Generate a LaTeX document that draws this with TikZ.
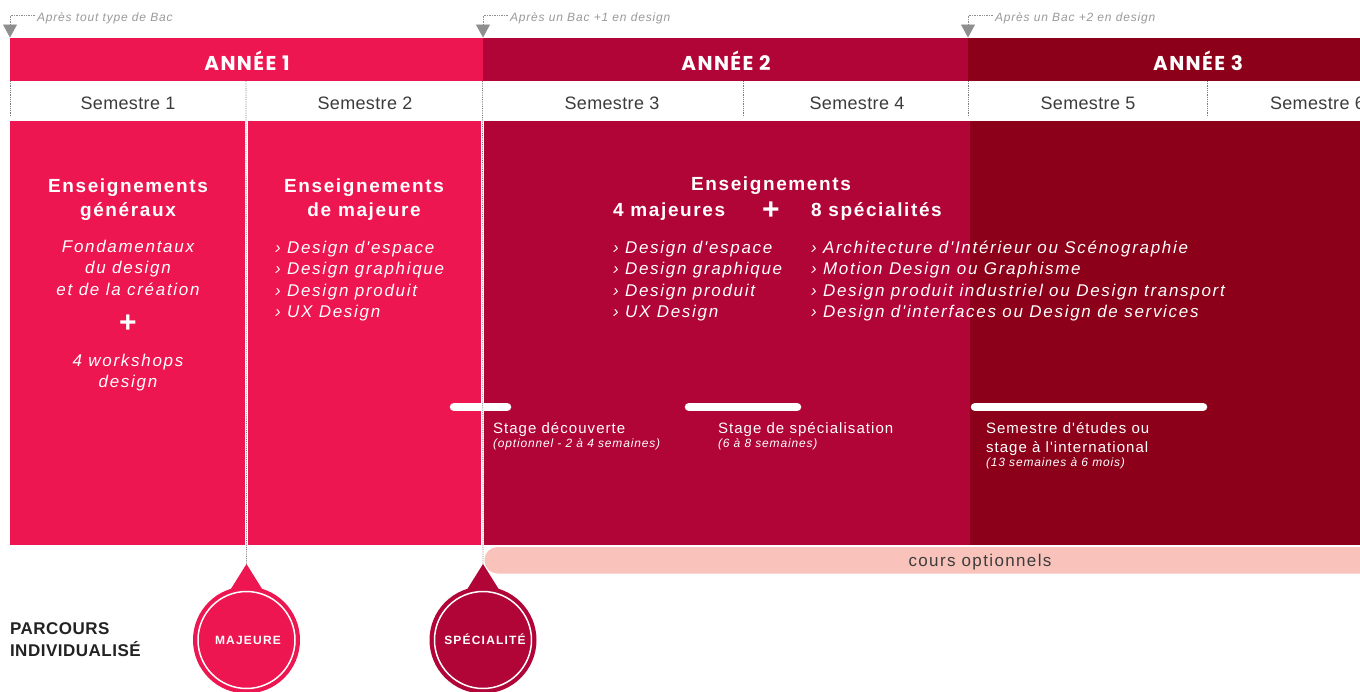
\documentclass[tikz,border=0pt]{standalone}
\usepackage{fontspec}
\setmainfont{Liberation Sans}
\newfontfamily\yearfont{Poppins}[LetterSpace=7]
\newfontfamily\headfont{Liberation Sans}[LetterSpace=8.5]
\newfontfamily\listfont{Liberation Sans}[LetterSpace=10]
\newfontfamily\semfont{Liberation Sans}[LetterSpace=2]
\newfontfamily\stagefont{Liberation Sans}[LetterSpace=7]
\newfontfamily\notefont{Liberation Sans}[LetterSpace=7]
\newfontfamily\coursfont{Liberation Sans}[LetterSpace=8]
\newfontfamily\parcfont{Liberation Sans}[LetterSpace=3]
\newfontfamily\circfont{Liberation Sans}[LetterSpace=10]
\usetikzlibrary{arrows.meta}
\definecolor{yone}{HTML}{ED1651}
\definecolor{ytwo}{HTML}{B10538}
\definecolor{ythree}{HTML}{8C0019}
\definecolor{coursbg}{HTML}{F9C3BB}
\definecolor{semtxt}{HTML}{3C3C3C}
\definecolor{notegray}{HTML}{9A9A9A}
\definecolor{arrowgray}{HTML}{8E8E8E}
\definecolor{sepgray}{HTML}{7A7A7A}
\definecolor{darktxt}{HTML}{222222}
\tikzset{
  yeartxt/.style={text=white, font=\yearfont\bfseries\fontsize{20}{22}\selectfont, anchor=base},
  semlabel/.style={text=semtxt, font=\semfont\fontsize{18}{20}\selectfont, anchor=base},
  headtxt/.style={text=white, font=\headfont\bfseries\fontsize{19}{22}\selectfont, anchor=base},
  listtxt/.style={text=white, font=\listfont\itshape\fontsize{17}{20}\selectfont, anchor=base},
  listleft/.style={listtxt, anchor=base west},
  plustxt/.style={text=white, font=\bfseries\fontsize{30}{32}\selectfont, anchor=center},
  stagetxt/.style={text=white, font=\stagefont\fontsize{15}{18}\selectfont, anchor=base west},
  stagenote/.style={text=white, font=\notefont\itshape\fontsize{12}{14}\selectfont, anchor=base west},
  toplabel/.style={text=notegray, font=\notefont\itshape\fontsize{12}{14}\selectfont, anchor=base west},
  toparrow/.style={arrowgray, densely dotted, line width=0.7pt, -{Triangle[length=13pt,width=14pt,sep=0pt]}},
  sepline/.style={sepgray, densely dotted, line width=0.8pt},
  stagebar/.style={white, line width=8.5pt, line cap=round},
  circtxt/.style={text=white, font=\circfont\bfseries\fontsize{12}{14}\selectfont, anchor=base},
  parctxt/.style={text=darktxt, font=\parcfont\bfseries\fontsize{17}{20}\selectfont, anchor=base west},
}
\begin{document}
\begin{tikzpicture}[x=1pt,y=-1pt, every node/.style={inner sep=0pt, outer sep=0pt}]
\useasboundingbox (0,0) rectangle (1360,691);
\clip (0,0) rectangle (1360,691);
\fill[white] (0,0) rectangle (1360,691);

% year headers
\fill[yone] (10,38) rectangle (483,81);
\fill[ytwo] (483,38) rectangle (968,81);
\fill[ythree] (968,38) rectangle (1361,81);
\node[yeartxt] (an1) at (247,70) {ANNÉE 1};
\node[yeartxt] (an2) at (726,70) {ANNÉE 2};
\node[yeartxt] (an3) at (1198,70) {ANNÉE 3};

% bodies
\fill[yone] (10,121) rectangle (480.5,545);
\fill[ytwo] (483.5,121) rectangle (970,545);
\fill[ythree] (970,121) rectangle (1361,545);
\draw[white, line width=3pt] (246,121) -- (246,545);

% cours optionnels
\fill[coursbg, rounded corners=13pt] (484.5,547) rectangle (1400,573.5);
\node[text=semtxt, font=\coursfont\fontsize{17}{20}\selectfont, anchor=base] (cours) at (980,566) {cours optionnels};

% semester labels
\node[semlabel] (s1) at (128,109) {Semestre 1};
\node[semlabel] (s2) at (365,109) {Semestre 2};
\node[semlabel] (s3) at (612,109) {Semestre 3};
\node[semlabel] (s4) at (857,109) {Semestre 4};
\node[semlabel] (s5) at (1088,109) {Semestre 5};
\node[semlabel, anchor=base west] (s6) at (1270,109) {Semestre 6};

% stage bars
\draw[stagebar] (454,407) -- (507,407);
\draw[stagebar] (689,407) -- (797,407);
\draw[stagebar] (975,407) -- (1203,407);

% separators
\coordinate (sepA) at (10,81);   \coordinate (sepAe) at (10,117);
\coordinate (sepB) at (246,81);
\coordinate (sepC) at (482.5,81);
\coordinate (sepD) at (743,81);  \coordinate (sepDe) at (743,117);
\coordinate (sepE) at (968,81);  \coordinate (sepEe) at (968,117);
\coordinate (sepF) at (1207,81); \coordinate (sepFe) at (1207,117);
\draw[sepline] (sepA) -- (sepAe);
\draw[sepline] (sepD) -- (sepDe);
\draw[sepline] (sepE) -- (sepEe);
\draw[sepline] (sepF) -- (sepFe);

% circles
\node[circle, fill=yone, minimum size=107pt] (maj) at (246.5,640) {};
\node[circle, fill=ytwo, minimum size=107pt] (spe) at (483,640) {};
\coordinate (majtip) at (246.5,564);
\coordinate (spetip) at (483,564);
\fill[yone] (majtip) -- (229,592) -- (264,592) -- cycle;
\fill[ytwo] (spetip) -- (465.5,592) -- (500.5,592) -- cycle;
\draw[white, line width=1.5pt] (maj.center) circle[radius=48.5pt];
\draw[white, line width=1.5pt] (spe.center) circle[radius=48.5pt];
\node[circtxt] (majt) at (248,644) {MAJEURE};
\node[circtxt] (spet) at (485,644) {SPÉCIALITÉ};

\draw[sepline] (sepB) -- (majtip);
\draw[sepline] (sepC) -- (spetip);

% top labels
\node[toplabel] (l1) at (37,21) {Après tout type de Bac};
\node[toplabel] (l2) at (510,21) {Après un Bac +1 en design};
\node[toplabel] (l3) at (995,21) {Après un Bac +2 en design};
\coordinate (l1s) at (35,15); \coordinate (l1e) at (10,37.5);
\coordinate (l2s) at (508,15); \coordinate (l2e) at (483,37.5);
\coordinate (l3s) at (993,15); \coordinate (l3e) at (968,37.5);
\draw[toparrow] (l1s) -| (l1e);
\draw[toparrow] (l2s) -| (l2e);
\draw[toparrow] (l3s) -| (l3e);

% year 1 column 1
\node[headtxt] (g1) at (128,192) {Enseignements};
\node[headtxt] (g2) at (128,216) {généraux};
\node[listtxt] (f1) at (128,252) {Fondamentaux};
\node[listtxt] (f2) at (128,273.5) {du design};
\node[listtxt] (f3) at (128,295) {et de la création};
\node[plustxt] (p1) at (128,324) {+};
\node[listtxt] (w1) at (128,366) {4 workshops};
\node[listtxt] (w2) at (128,387) {design};

% year 1 column 2
\node[headtxt] (m1) at (364,192) {Enseignements};
\node[headtxt] (m2) at (364,216.5) {de majeure};
\node[listleft] (ma) at (275,253) {› Design d'espace};
\node[listleft] (mb) at (275,274.5) {› Design graphique};
\node[listleft] (mc) at (275,296) {› Design produit};
\node[listleft] (md) at (275,317.5) {› UX Design};

% year 2 and 3
\node[headtxt] (e1) at (771,190) {Enseignements};
\node[headtxt, anchor=base west] (e2) at (613,216.5) {4 majeures};
\node[plustxt] (p2) at (771,211) {+};
\node[headtxt, anchor=base west] (e3) at (811,216.5) {8 spécialités};
\node[listleft] (ja) at (613,253) {› Design d'espace};
\node[listleft] (jb) at (613,274.5) {› Design graphique};
\node[listleft] (jc) at (613,296) {› Design produit};
\node[listleft] (jd) at (613,317.5) {› UX Design};
\node[listleft] (ka) at (811,253) {› Architecture d'Intérieur ou Scénographie};
\node[listleft] (kb) at (811,274.5) {› Motion Design ou Graphisme};
\node[listleft] (kc) at (811,296) {› Design produit industriel ou Design transport};
\node[listleft] (kd) at (811,317.5) {› Design d'interfaces ou Design de services};

% stages
\node[stagetxt] (st1) at (493,433) {Stage découverte};
\node[stagenote] (st1n) at (493,447.5) {(optionnel - 2 à 4 semaines)};
\node[stagetxt] (st2) at (718,433) {Stage de spécialisation};
\node[stagenote] (st2n) at (718,447.5) {(6 à 8 semaines)};
\node[stagetxt] (st3) at (986,433) {Semestre d'études ou};
\node[stagetxt] (st3b) at (986,452.5) {stage à l'international};
\node[stagenote] (st3n) at (986,466) {(13 semaines à 6 mois)};

% parcours
\node[parctxt] (pa1) at (10,634) {PARCOURS};
\node[parctxt] (pa2) at (10,656) {INDIVIDUALISÉ};
\end{tikzpicture}
\end{document}
